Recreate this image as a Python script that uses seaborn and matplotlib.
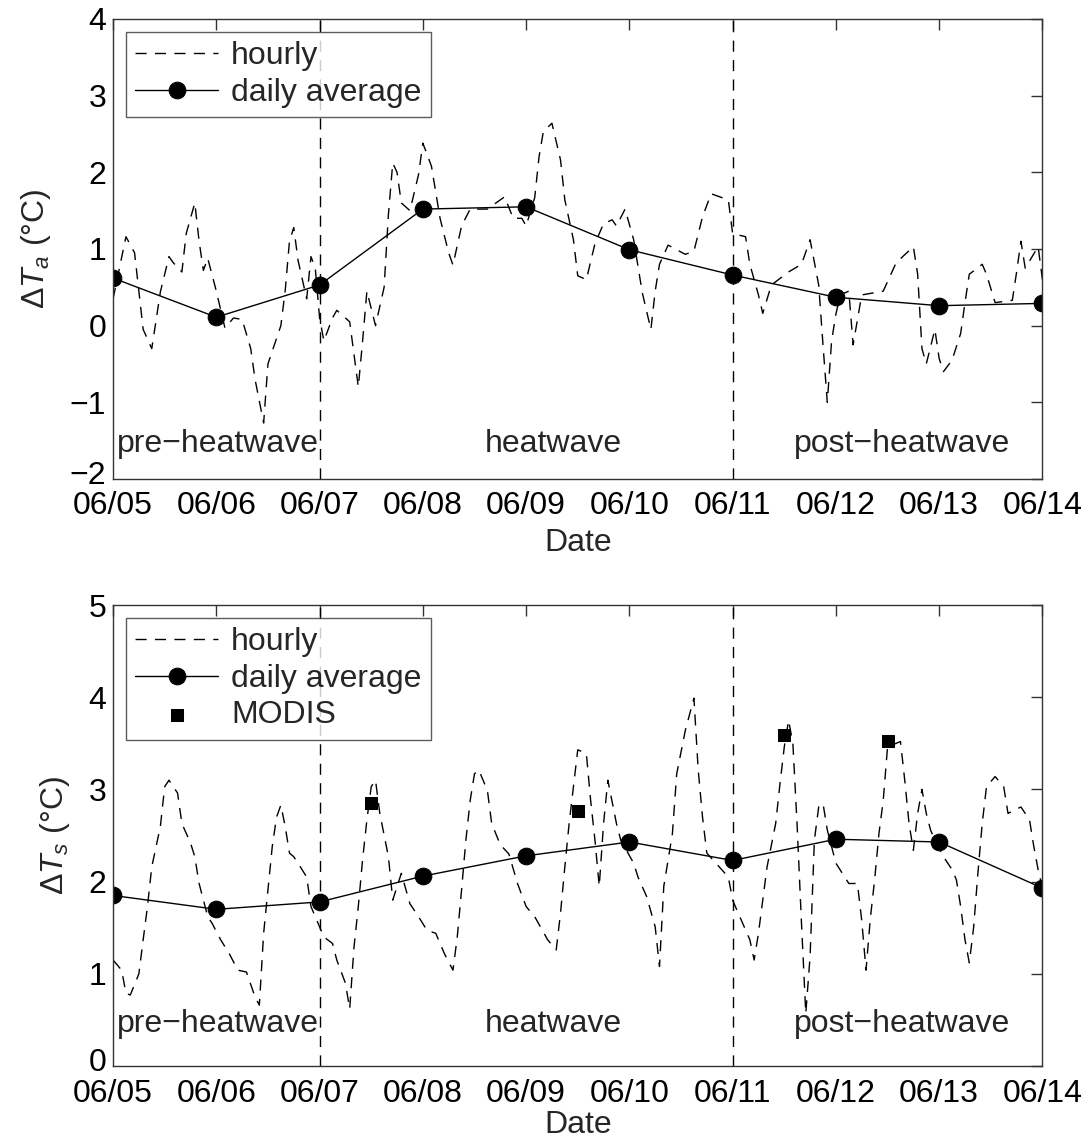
import seaborn as sns
import pandas as pd
import matplotlib.pyplot as plt
import matplotlib.transforms as mtransforms
import numpy as np

# daily averages (one per day, 06/05 .. 06/14)
days = [0, 1, 2, 3, 4, 5, 6, 7, 8, 9]
date_labels = ['06/05', '06/06', '06/07', '06/08', '06/09',
               '06/10', '06/11', '06/12', '06/13', '06/14']
ta_daily = [0.62, 0.11, 0.53, 1.52, 1.55, 0.99, 0.66, 0.37, 0.26, 0.29]
ts_daily = [1.85, 1.70, 1.78, 2.06, 2.28, 2.43, 2.23, 2.46, 2.43, 1.93]

# hourly air temperature difference (hours since 06/05 00:00)
ta_hours = [0, 3, 5, 7, 9, 11, 13, 14, 16, 17, 19, 20, 21, 22, 24, 26, 28, 30, 32, 33,
            35, 36, 39, 40, 41, 42, 43, 45, 46, 47, 48, 49, 51, 52, 55, 57, 58, 59, 61, 63,
            64, 65, 66, 67, 69, 71, 72, 74, 76, 78, 79, 81, 83, 87, 91, 93, 95, 96, 98, 99,
            100, 102, 104, 105, 107, 108, 110, 112, 114, 116, 117, 119, 121, 123, 125, 126, 127, 129, 133, 135,
            137, 139, 143, 144, 147, 148, 150, 151, 153, 157, 160, 162, 164, 165, 166, 167, 168, 169, 171, 172,
            174, 179, 182, 186, 187, 188, 189, 191, 192, 193, 195, 197, 198, 199, 202, 203, 205, 209, 210, 211,
            212, 215, 216]
ta_hourly = [0.35, 1.16, 0.95, -0.05, -0.30, 0.44, 0.90, 0.82, 0.70, 1.20, 1.60, 1.10, 0.72, 0.88, 0.45, -0.03, 0.10, 0.08, -0.30, -0.70,
             -1.27, -0.50, 0.00, 0.45, 1.10, 1.28, 0.85, 0.35, 0.90, 0.75, 0.10, -0.20, 0.10, 0.20, 0.05, -0.80, -0.20, 0.45, 0.00, 0.50,
             1.45, 2.12, 2.00, 1.60, 1.50, 1.97, 2.38, 2.08, 1.40, 0.95, 0.79, 1.30, 1.52, 1.52, 1.68, 1.40, 1.40, 1.30, 1.67, 2.20,
             2.53, 2.64, 2.16, 1.64, 1.12, 0.65, 0.60, 1.07, 1.33, 1.38, 1.30, 1.52, 1.12, 0.43, -0.05, 0.45, 0.80, 1.05, 0.93, 0.97,
             1.42, 1.72, 1.64, 1.20, 1.16, 0.80, 0.40, 0.16, 0.53, 0.70, 0.80, 1.12, 0.53, -0.25, -1.00, -0.20, 0.15, 0.40, 0.45, -0.25,
             0.40, 0.45, 0.82, 1.03, 0.67, -0.30, -0.50, -0.05, -0.43, -0.60, -0.45, -0.10, 0.30, 0.67, 0.80, 0.67, 0.30, 0.33, 0.70, 1.10,
             0.75, 1.03, 0.60]

# hourly surface temperature difference
ts_hours = [0, 2, 3, 4, 6, 7, 8, 9, 11, 12, 13, 15, 16, 18, 19, 20, 22, 23, 25, 27,
            29, 31, 33, 34, 35, 36, 37, 38, 39, 40, 41, 42, 43, 45, 46, 48, 49, 51, 52, 54,
            55, 56, 57, 58, 59, 60, 61, 62, 64, 65, 67, 69, 71, 73, 75, 77, 79, 80, 81, 82,
            83, 84, 85, 87, 88, 90, 92, 94, 96, 98, 101, 103, 104, 105, 106, 107, 108, 110, 111, 112,
            113, 114, 115, 117, 118, 121, 122, 124, 126, 127, 128, 130, 131, 133, 135, 136, 137, 138, 143, 144,
            145, 148, 149, 150, 151, 152, 154, 155, 156, 157, 158, 159, 160, 161, 162, 163, 164, 165, 166, 168,
            171, 173, 174, 175, 176, 177, 178, 179, 180, 183, 184, 185, 186, 187, 188, 189, 190, 191, 193, 195,
            196, 197, 198, 199, 200, 201, 202, 203, 205, 207, 208, 211, 213, 214, 215, 216]
ts_hourly = [1.15, 1.04, 0.79, 0.77, 1.00, 1.37, 1.73, 2.16, 2.60, 3.03, 3.10, 2.96, 2.63, 2.42, 2.27, 1.98, 1.62, 1.55, 1.37, 1.22,
             1.04, 1.02, 0.75, 0.66, 1.44, 1.91, 2.38, 2.70, 2.83, 2.60, 2.31, 2.27, 2.20, 2.05, 1.73, 1.51, 1.40, 1.33, 1.15, 0.90,
             0.62, 1.29, 1.73, 2.24, 2.67, 3.03, 3.10, 2.74, 2.27, 1.80, 2.09, 1.76, 1.62, 1.47, 1.44, 1.22, 1.04, 1.40, 1.91, 2.45,
             2.88, 3.17, 3.21, 2.99, 2.63, 2.40, 2.30, 1.98, 1.73, 1.62, 1.37, 1.26, 1.66, 2.16, 2.63, 3.03, 3.43, 3.39, 2.88, 2.45,
             1.95, 2.63, 3.10, 2.63, 2.45, 2.20, 2.05, 1.84, 1.51, 1.08, 1.95, 2.52, 3.17, 3.64, 3.99, 3.21, 2.70, 2.31, 2.05, 1.80,
             1.69, 1.37, 1.15, 1.44, 1.80, 2.16, 2.63, 3.06, 3.46, 3.75, 3.50, 2.60, 1.55, 0.57, 1.19, 2.45, 2.81, 2.85, 2.56, 2.20,
             1.98, 1.98, 1.58, 1.04, 1.60, 2.02, 2.52, 2.88, 3.46, 3.52, 3.10, 2.63, 2.34, 2.74, 3.00, 2.74, 2.56, 2.45, 2.27, 2.13,
             2.02, 1.73, 1.37, 1.12, 1.50, 2.09, 2.63, 3.03, 3.14, 3.03, 2.74, 2.81, 2.67, 2.38, 2.13, 1.93]

# MODIS overpasses
modis_days = [2.5, 4.5, 6.5, 7.5]
modis_ts = [2.85, 2.77, 3.59, 3.52]

sns.set_style('white')
plt.rcParams['font.family'] = ['Liberation Sans', 'DejaVu Sans']
plt.rcParams['mathtext.fontset'] = 'custom'
plt.rcParams['mathtext.rm'] = 'Liberation Sans'
plt.rcParams['mathtext.it'] = 'Liberation Sans:italic'
plt.rcParams['axes.edgecolor'] = '#333333'
plt.rcParams['axes.linewidth'] = 1.0

fs = 23
fig = plt.figure(figsize=(10.87, 11.42), dpi=100)
ax1 = fig.add_axes([0.104, 0.5806, 0.855, 0.4028])
ax2 = fig.add_axes([0.104, 0.0665, 0.855, 0.4037])

dash = (0, (8, 6))


def draw_panel(ax, hours, hourly, daily, ylim, ylab, text_y, modis=False, xpad=5):
    t = np.array(hours) / 24.0
    sns.lineplot(x=t, y=hourly, ax=ax, color='k', lw=1.0, linestyle=dash,
                 label='hourly', estimator=None, sort=False)
    sns.lineplot(x=days, y=daily, ax=ax, color='k', lw=1.0, marker='o',
                 markersize=12, markeredgecolor='k', label='daily average',
                 estimator=None, sort=False)
    if modis:
        sns.scatterplot(x=modis_days, y=modis_ts, ax=ax, color='k', marker='s',
                        s=85, edgecolor='k', label='MODIS', zorder=5)
    for d in [2, 6]:
        ax.axvline(d, color='k', lw=1.0, linestyle=dash)
    ax.set_xlim(0, 9)
    ax.set_ylim(*ylim)
    ax.set_xticks(days)
    ax.set_xticklabels(date_labels)
    ax.set_yticks(np.arange(ylim[0], ylim[1] + 1))
    ax.set_yticklabels([str(v).replace('-', '\u2212') for v in range(ylim[0], ylim[1] + 1)])
    ax.tick_params(direction='in', length=8, width=1, top=True, right=True,
                   labelsize=fs, colors='#333333', labelcolor='k')
    ax.tick_params(axis='x', pad=9)
    ax.tick_params(axis='y', pad=5)
    # lift the lowest y label a little so it clears the first date label
    lowest = ax.get_yticklabels()[0]
    lowest.set_transform(lowest.get_transform() +
                         mtransforms.ScaledTranslation(0, 5 / 72, fig.dpi_scale_trans))
    ax.set_xlabel('Date', fontsize=fs, labelpad=xpad)
    ax.set_ylabel(ylab, fontsize=fs, labelpad=12)
    ax.text(0.04, text_y, 'pre\u2212heatwave', fontsize=fs, va='center', ha='left')
    ax.text(4.26, text_y, 'heatwave', fontsize=fs, va='center', ha='center')
    ax.text(7.64, text_y, 'post\u2212heatwave', fontsize=fs, va='center', ha='center')
    leg = ax.legend(loc='upper left', fontsize=fs, frameon=True, fancybox=False,
                    borderpad=0.3, labelspacing=0.2, handlelength=2.6,
                    handletextpad=0.4, borderaxespad=0.4, bbox_to_anchor=(0.0, 1.0))
    leg.get_frame().set_edgecolor('#333333')
    leg.get_frame().set_linewidth(1.0)


draw_panel(ax1, ta_hours, ta_hourly, ta_daily, (-2, 4), r'$\Delta T_a$ (°C)', -1.55)
draw_panel(ax2, ts_hours, ts_hourly, ts_daily, (0, 5), r'$\Delta T_s$ (°C)', 0.46,
           modis=True, xpad=1)

fig.savefig('out.png', dpi=100)
